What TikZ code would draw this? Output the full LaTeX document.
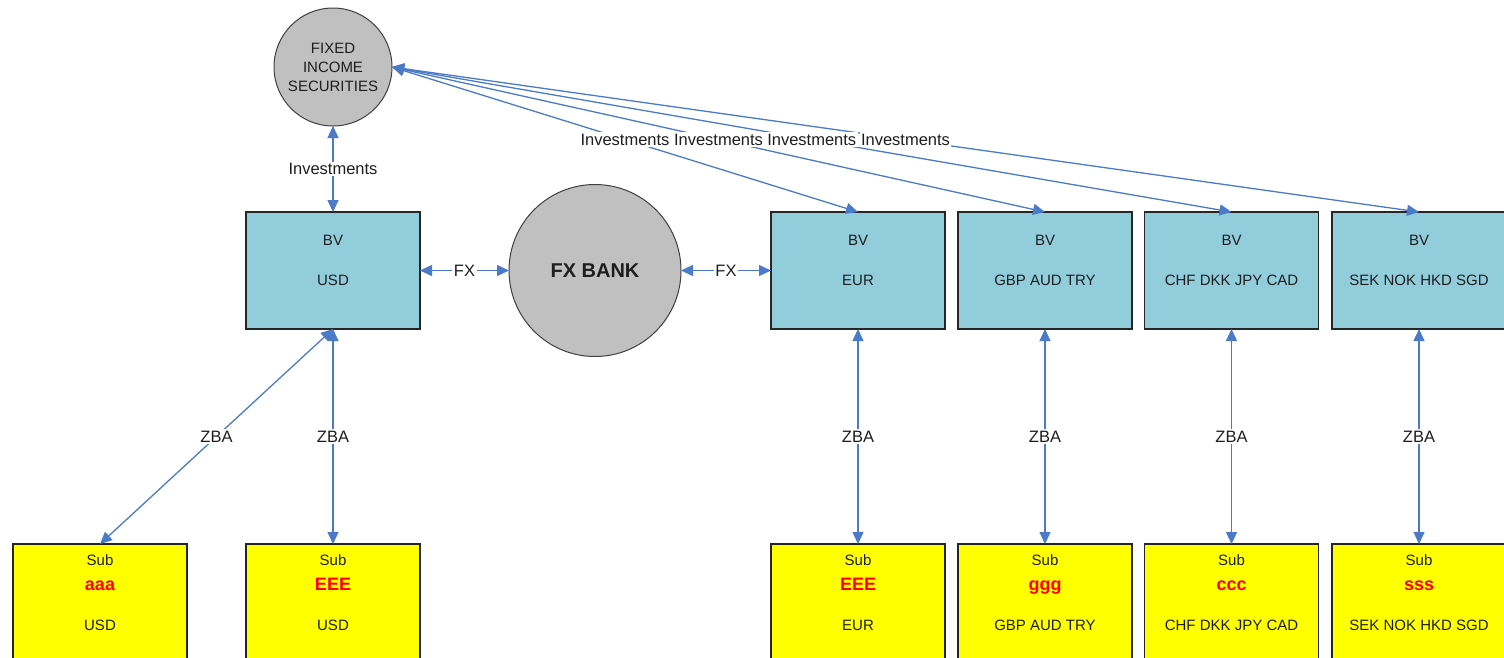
\documentclass[tikz,border=0pt]{standalone}
\usepackage{fontspec}
\setmainfont{Liberation Sans}
\usetikzlibrary{arrows.meta}
\definecolor{bvfill}{HTML}{92CDDC}
\definecolor{subfill}{HTML}{FFFF00}
\definecolor{circfill}{HTML}{C0C0C0}
\definecolor{conncol}{HTML}{4A7AC8}
\definecolor{txt}{HTML}{1E1E1E}
\definecolor{subred}{HTML}{FF0000}
\begin{document}
\begin{tikzpicture}[x=1pt,y=-1pt,
 every node/.style={inner sep=0pt, outer sep=0pt, text=txt, font=\fontsize{15}{19}\selectfont},
 box/.style={draw=black!85, line width=1.3pt, minimum width=174pt, minimum height=117pt},
 bvbox/.style={box, fill=bvfill},
 subbox/.style={box, fill=subfill},
 circ/.style={circle, draw=black!75, line width=1pt, fill=circfill},
 conn/.style={draw=conncol, line width=1.3pt, {Triangle[length=12pt,width=11pt]}-{Triangle[length=12pt,width=11pt]}},
 lbl/.style={fill=white, inner sep=1.5pt, font=\fontsize{16.5}{19}\selectfont},
 subname/.style={text=subred, anchor=base, font=\fontsize{18}{20}\selectfont\bfseries}
]
\useasboundingbox (0,0) rectangle (1504,657);

% circles
\node[circ, minimum size=118pt, align=center] (fis) at (333,67) {FIXED\\INCOME\\SECURITIES};
\node[circ, minimum size=172pt, font=\fontsize{20}{24}\selectfont\bfseries] (fxb) at (595,270.5) {FX BANK};

% BV boxes
\node[bvbox] (bvusd) at (333,270.5) {};
\node[bvbox] (bveur) at (858,270.5) {};
\node[bvbox] (bvgbp) at (1045,270.5) {};
\node[bvbox] (bvchf) at (1231.5,270.5) {};
\node[bvbox] (bvsek) at (1419,270.5) {};

\foreach \b/\c in {bvusd/USD, bveur/EUR, bvgbp/GBP AUD TRY, bvchf/CHF DKK JPY CAD, bvsek/SEK NOK HKD SGD}{
  \node (\b-t) at ([yshift=-28pt]\b.north) {BV};
  \node (\b-c) at ([yshift=-68pt]\b.north) {\c};
}

% Sub boxes
\node[subbox] (subaaa) at (100,602.5) {};
\node[subbox] (subusd) at (333,602.5) {};
\node[subbox] (subeur) at (858,602.5) {};
\node[subbox] (subgbp) at (1045,602.5) {};
\node[subbox] (subchf) at (1231.5,602.5) {};
\node[subbox] (subsek) at (1419,602.5) {};

\foreach \b/\n/\c in {subaaa/aaa/USD, subusd/EEE/USD, subeur/EEE/EUR, subgbp/ggg/GBP AUD TRY, subchf/ccc/CHF DKK JPY CAD, subsek/sss/SEK NOK HKD SGD}{
  \node (\b-t) at ([yshift=-16pt]\b.north) {Sub};
  \node[subname] (\b-n) at ([yshift=-46pt]\b.north) {\n};
  \node (\b-c) at ([yshift=-81pt]\b.north) {\c};
}

% connectors
\draw[conn] (fis.south) -- node[lbl] {Investments} (bvusd.north);
\foreach \b in {bveur, bvgbp, bvchf, bvsek}{
  \draw[conn] (fis.east) -- (\b.north);
}
\foreach \b in {bveur, bvgbp, bvchf, bvsek}{
  \path (fis.east) -- node[lbl] {Investments} (\b.north);
}
\draw[conn] (bvusd.east) -- node[lbl] {FX} (fxb.west);
\draw[conn] (fxb.east) -- node[lbl] {FX} (bveur.west);

\draw[conn] (bvusd.south) -- node[lbl] {ZBA} (subaaa.north);
\draw[conn] (bvusd.south) -- node[lbl] {ZBA} (subusd.north);
\draw[conn] (bveur.south) -- node[lbl] {ZBA} (subeur.north);
\draw[conn] (bvgbp.south) -- node[lbl] {ZBA} (subgbp.north);
\draw[conn] (bvchf.south) -- node[lbl] {ZBA} (subchf.north);
\draw[conn] (bvsek.south) -- node[lbl] {ZBA} (subsek.north);
\end{tikzpicture}
\end{document}
